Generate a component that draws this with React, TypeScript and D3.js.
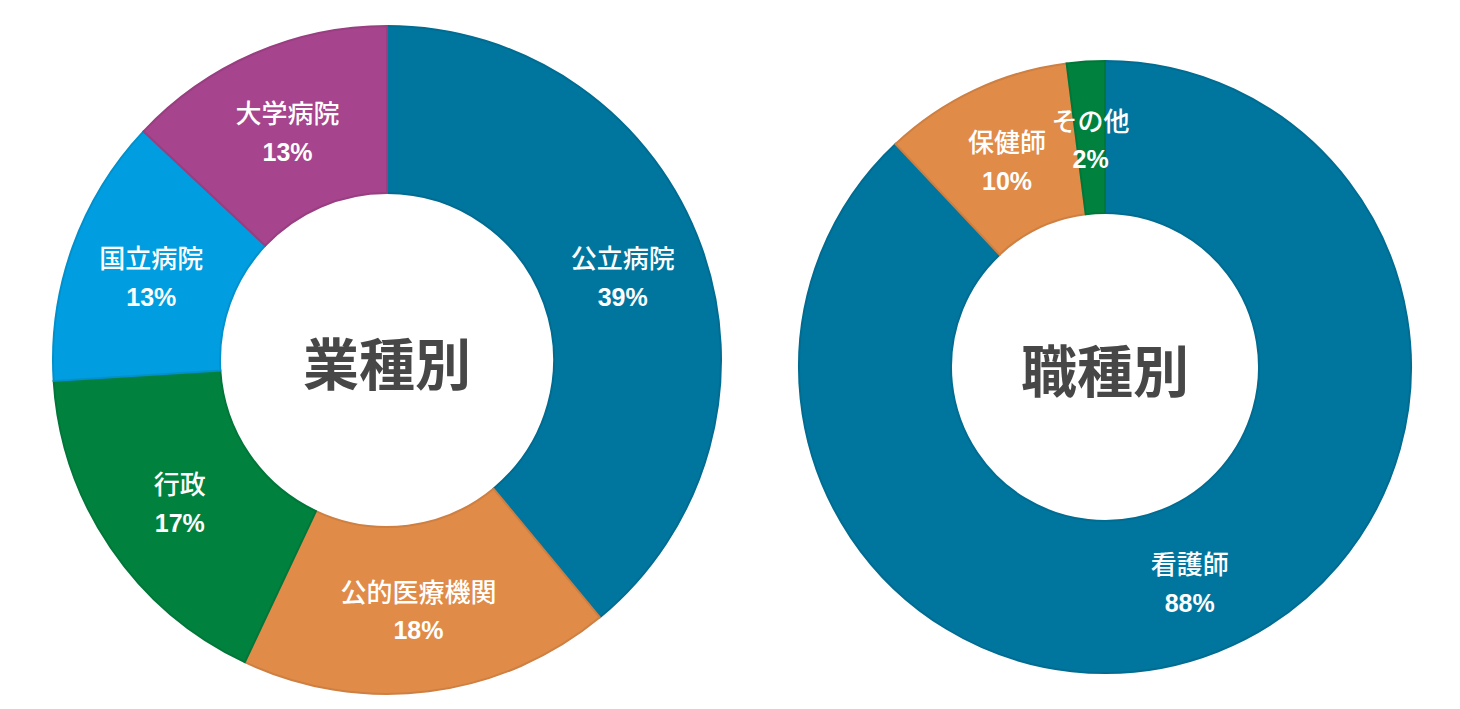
import React from "react";
import * as d3 from "d3";

// 業種別
const industryLabels = ["公立病院", "公的医療機関", "行政", "国立病院", "大学病院"];
const industryValues = [39, 18, 17, 13, 13];
const industryColors = ["#00769F", "#E18B48", "#00823E", "#009EE0", "#A6448D"];

// 職種別
const jobLabels = ["看護師", "保健師", "その他"];
const jobValues = [88, 10, 2];
const jobColors = ["#00769F", "#E18B48", "#00823E"];

interface DonutProps {
  title: string;
  labels: string[];
  values: number[];
  colors: string[];
  cx: number;
  cy: number;
  outer: number;
  inner: number;
}

const Donut: React.FC<DonutProps> = ({ title, labels, values, colors, cx, cy, outer, inner }) => {
  const pie = d3
    .pie<number>()
    .sort(null)
    .value((d) => d);
  const arcs = pie(values);
  const arc = d3.arc<d3.PieArcDatum<number>>().innerRadius(inner).outerRadius(outer);
  const total = d3.sum(values);

  return (
    <g transform={`translate(${cx}, ${cy})`}>
      {arcs.map((a, i) => (
        <path
          key={i}
          d={arc(a) || ""}
          fill={colors[i]}
          stroke={d3.color(colors[i])!.darker(0.25).formatHex()}
          strokeWidth={2}
        />
      ))}
      {arcs.map((a, i) => {
        const [x, y] = arc.centroid(a);
        return (
          <g key={"l" + i} transform={`translate(${x}, ${y})`} fill="#fff" textAnchor="middle">
            <text
              y={-16}
              dy="0.35em"
              fontFamily="'Noto Sans CJK JP', sans-serif"
              fontWeight={500}
              fontSize={26}
            >
              {labels[i]}
            </text>
            <text
              y={22}
              dy="0.35em"
              fontFamily="'Liberation Sans', Arial, sans-serif"
              fontWeight="bold"
              fontSize={25}
            >
              {Math.round((values[i] / total) * 100)}%
            </text>
          </g>
        );
      })}
      <text
        x={0}
        y={5}
        dy="0.35em"
        textAnchor="middle"
        fontFamily="'Noto Sans CJK JP', sans-serif"
        fontWeight="bold"
        fontSize={56}
        fill="#474747"
      >
        {title}
      </text>
    </g>
  );
};

const App: React.FC = () => {
  return (
    <svg
      width={1460}
      height={709}
      style={{ position: "absolute", left: 0, top: 0, display: "block", background: "#fff" }}
    >
      <Donut
        title="業種別"
        labels={industryLabels}
        values={industryValues}
        colors={industryColors}
        cx={387}
        cy={360}
        outer={334}
        inner={167}
      />
      <Donut
        title="職種別"
        labels={jobLabels}
        values={jobValues}
        colors={jobColors}
        cx={1105}
        cy={367}
        outer={306}
        inner={154}
      />
    </svg>
  );
};

export default App;
